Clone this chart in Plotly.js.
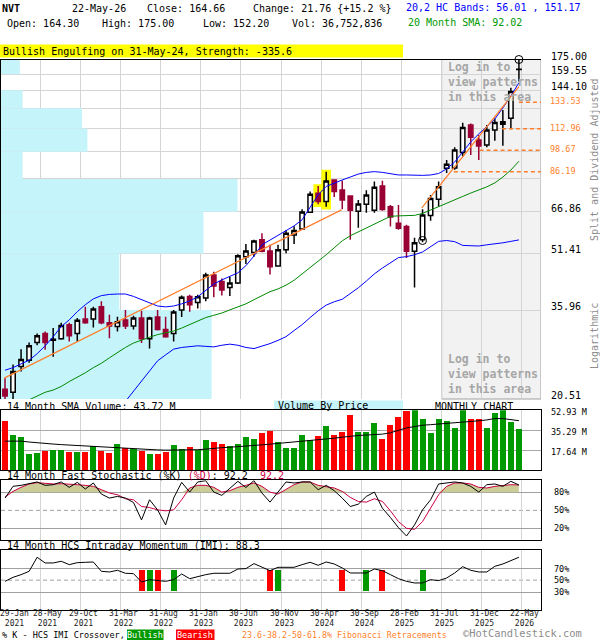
<!DOCTYPE html>
<html><head><meta charset="utf-8">
<script src="https://cdn.plot.ly/plotly-3.0.1.min.js"></script>
<style>html,body{margin:0;padding:0;background:#fff}#chart{width:600px;height:640px}</style>
</head><body><div id="chart"></div>
<script>
// ---------------- DATA (monthly, Jan-2021 .. May-2026) ----------------
const months = Array.from({length: 65}, (_, i) => i);

const openP = [21.8,21.4,25.2,26.2,29.3,31.0,29.7,30.0,32.8,31.0,34.0,34.0,36.7,
  33.2,32.4,33.8,32.5,34.2,30.0,34.4,31.8,31.0,36.0,39.2,37.7,38.8,44.9,43.1,41.5,
  42.7,50.4,51.7,56.1,52.2,47.5,52.6,57.8,
  60.0,66.7,75.2,71.4,81.8,76.8,73.9,67.1,70.2,67.5,78.7,69.1,62.2,61.0,52.1,56.1,65.3,72.4,
  88.1,88.2,97.2,115.7,105.2,102.0,112.1,116.3,120.7,164.30];
const highP = [23.4,25.5,28.1,29.3,31.0,31.4,32.1,33.2,33.2,34.2,36.7,36.7,38.0,
  34.9,34.5,36.0,34.7,35.8,34.5,36.0,34.5,36.0,39.4,39.6,39.6,45.5,45.8,43.9,44.3,
  51.2,54.6,56.1,58.4,54.3,54.3,59.6,61.1,
  68.0,76.0,78.7,86.2,82.1,81.5,74.1,72.1,76.7,81.0,81.4,69.8,69.8,61.6,56.8,68.0,74.4,81.0,
  92.8,100.6,117.4,116.8,108.6,115.7,120.5,127.3,146.5,175.00];
const lowP = [20.2,20.4,24.4,25.8,28.8,28.0,26.8,29.8,29.5,29.5,33.0,32.2,32.9,
  30.1,31.4,31.9,31.8,29.2,28.2,31.6,30.2,29.5,34.4,35.6,36.3,38.0,39.0,39.4,39.3,
  42.4,48.1,50.4,51.8,45.0,47.3,51.5,54.6,
  59.7,66.5,70.2,69.1,73.5,68.0,56.1,60.5,66.5,66.5,67.3,61.0,59.7,50.0,41.5,55.2,63.2,69.1,
  85.4,87.2,94.8,95.8,92.8,100.6,104.8,101.5,112.6,152.20];
const closeP = [20.9,24.4,26.3,28.7,30.6,29.3,29.9,32.6,30.6,33.7,33.2,36.2,33.2,
  32.5,33.4,32.5,34.2,30.0,34.2,31.8,30.4,35.5,39.0,37.2,39.1,44.9,41.9,40.8,42.7,
  50.7,52.2,55.6,52.1,47.3,52.6,58.4,59.4,
  66.8,74.7,71.4,81.2,76.0,72.1,67.5,70.3,74.4,78.1,67.9,64.7,60.3,52.1,55.0,65.6,72.8,78.4,
  90.3,98.9,114.0,107.1,101.4,112.1,117.5,118.1,142.90,164.66];

const upperBand = [24.6,25.0,25.6,26.2,27.3,28.7,30.4,32.4,33.8,35.6,
  37.2,38.6,39.4,39.7,39.8,39.8,39.2,38.4,37.6,36.9,
  36.7,36.9,37.4,38.1,39.1,40.6,42.4,43.5,44.4,45.5,
  47.6,50.6,54.3,56.0,57.5,59.3,61.2,63.6,68.6,74.5,
  78.5,80.3,81.8,83.3,84.9,85.8,86.2,85.8,84.9,84.4,
  84.4,84.2,84.2,84.4,85.2,87.7,91.6,97.6,104.0,109.4,
  115.0,120.2,128.9,138.9,151.17];
const lowerBand = [null,null,null,null,null,null,null,null,null,null,
  null,null,null,null,null,20.2,21.5,22.9,24.5,26.1,
  27.1,28.1,28.4,28.6,28.7,28.6,28.5,28.8,29.0,28.8,
  28.4,28.2,28.6,29.1,29.7,30.4,31.6,32.8,34.3,35.8,
  37.1,37.9,38.5,39.9,41.4,43.2,45.2,46.9,48.6,50.1,
  50.4,51.0,51.9,53.6,55.5,55.8,55.4,54.1,53.9,53.9,
  54.3,54.6,55.0,55.5,56.01];
const sma20 = [null,null,null,20.4,20.9,21.4,21.7,22.2,22.9,23.5,
  24.2,25.0,25.7,26.6,27.5,28.4,29.2,29.8,30.3,30.8,
  31.2,31.5,32.1,32.8,33.4,34.3,34.8,35.3,36.0,36.7,
  37.4,38.4,39.4,40.4,41.1,42.1,43.4,45.2,46.9,48.8,
  51.0,53.3,55.7,57.5,58.9,60.5,62.0,63.6,65.0,65.2,
  65.2,65.4,66.2,67.7,69.0,70.5,72.1,73.7,75.3,76.8,
  78.3,80.3,83.3,87.1,92.02];

const trendX1 = [-0.1, 41.9], trendY1 = [23.4, 67.7];
const trendX2 = [51.9, 64.0], trendY2 = [68.6, 147.4];
const fibLevels = [133.53, 112.96, 98.67, 86.19];
const fibFrom = [64.0, 61.9, 59.1, 55.9];
const patternX = [52, 64], patternY = [55.8, 175.0];
const highlightIdx = [39, 40];

// volume-by-price bins (price grid edges) and share of panel width (%)
const priceGrid = [20.51,35.96,51.41,66.86,82.31,97.76,113.21,128.66,144.11,159.56,175.01];
const vbpShare = [39.0, 21.9, 37.5, 43.8, 4.0, 16.0, 15.0, 4.0, 0, 3.5];

const volume = [43.2,30.9,29.1,14.1,15.0,16.8,17.6,17.6,15.9,15.9,15.9,20.9,16.8,
  15.0,22.9,19.4,18.5,17.1,14.1,14.1,16.2,22.1,18.5,20.3,17.6,26.5,24.4,22.9,21.2,
  22.9,29.1,27.3,32.6,34.4,24.4,19.4,19.4,30.9,26.5,30.0,38.8,30.9,33.5,48.5,33.5,
  33.5,41.5,27.3,39.7,46.7,52.6,58.0,45.0,32.6,45.0,43.2,37.0,60.0,45.0,45.0,37.0,50.3,57.0,42.3,36.75];
const volSMA = [25.6,25.6,25.6,24.8,24.0,23.5,23.0,22.5,22.1,21.8,
  21.4,20.8,20.3,19.9,19.4,19.0,18.5,18.2,18.0,17.8,
  17.6,17.6,17.6,17.6,18.0,18.5,19.4,19.8,20.2,20.6,
  21.2,21.7,22.3,22.9,23.5,24.1,24.7,25.3,26.0,26.6,
  27.3,28.2,29.1,30.0,30.6,31.0,31.4,31.8,33.0,35.2,
  37.3,38.5,39.7,40.2,40.7,41.2,41.6,42.0,42.8,43.6,
  44.4,45.6,45.6,44.5,43.72];

const stochK = [70.4,90.0,91.6,95.0,97.2,91.6,92.7,97.2,88.3,96.6,
  85.5,95.5,77.1,70.4,73.2,70.4,63.1,34.1,67.6,50.8,
  25.7,70.4,96.6,80.4,97.2,99.4,80.4,74.9,86.0,98.3,
  88.0,99.4,78.8,63.7,80.4,97.2,95.5,97.2,97.2,84.4,
  91.6,82.7,70.4,56.4,60.3,73.2,80.4,53.6,38.0,21.2,
  7.3,25.7,50.8,67.6,93.9,95.5,97.2,95.5,89.9,80.4,
  92.7,93.9,89.9,98.3,92.2];
const stochD = [72.0,81.6,88.3,93.9,96.1,95.0,93.9,94.4,93.9,92.7,
  91.6,89.9,84.4,78.8,76.0,69.3,67.6,56.4,54.7,50.8,
  49.2,50.8,67.6,87.2,91.6,91.6,88.3,80.4,82.7,88.3,
  91.6,95.5,89.9,80.4,77.1,84.4,92.7,97.2,97.2,91.6,
  89.9,87.2,81.6,71.5,64.8,63.7,69.3,64.8,49.2,31.3,
  20.1,18.4,31.3,53.6,76.0,89.9,95.5,95.5,93.9,88.3,
  87.2,89.9,91.6,92.7,92.2];
const stochUpper = 80;

const imi = [48.0,54.7,59.2,64.8,88.3,78.8,78.8,81.6,76.0,79.3,
  79.9,80.4,64.8,63.7,66.5,61.5,60.9,46.9,50.8,49.2,
  48.0,50.8,60.3,52.5,56.4,59.2,61.5,61.5,61.5,68.7,
  69.3,77.7,71.5,65.9,71.5,71.5,71.5,76.0,79.9,74.9,
  80.4,77.1,70.4,62.0,62.0,62.0,68.7,65.9,59.2,52.5,
  48.0,45.3,45.3,50.8,49.2,53.6,62.0,72.6,66.5,63.7,
  63.7,73.2,77.1,82.7,88.3];
const bullishX = [18, 21, 34, 45, 52];
const bearishX = [17, 19, 33, 42, 47];
const crossBand = [32.4, 67.0];

const tickIdx = [0,4,9,14,19,24,29,34,39,44,49,54,59,64];
const tickDay = ['29-Jan','28-May','29-Oct','31-Mar','31-Aug','31-Jan','30-Jun','30-Nov','30-Apr','30-Sep','28-Feb','31-Jul','31-Dec','22-May'];
const tickYear = ['2021','2021','2021','2022','2022','2023','2023','2023','2024','2024','2025','2025','2025','2026'];
const priceLabels = [175.00,159.55,144.10,66.86,51.41,35.96,20.51];

// ---------------- LAYOUT HELPERS ----------------
const W = 600, H = 640;
const px = x => x / W;
const py = y => 1 - y / H;
const xDom = [px(1), px(541)];
const xRange = [-0.5, 66.75];
const gridTicks = tickIdx.slice(1).map(v => v + 0.375);
const FONT = 'DejaVu Sans Mono';
const GRID = '#d4d4d4';
const UP = '#009900', DOWN = '#ff0000', MAROON = '#990033', ORANGE = '#ff7f2a';

// ---------------- TRACES ----------------
const traces = [];

traces.push({type:'scatter', mode:'lines', x:months, y:upperBand, line:{color:'#0000ff', width:1}, hoverinfo:'skip'});
traces.push({type:'scatter', mode:'lines', x:months, y:lowerBand, line:{color:'#0000ff', width:1}, hoverinfo:'skip'});
traces.push({type:'scatter', mode:'lines', x:months, y:sma20, line:{color:'#008800', width:1}, hoverinfo:'skip'});
traces.push({type:'scatter', mode:'lines', x:trendX1, y:trendY1, line:{color:ORANGE, width:1.2}, hoverinfo:'skip'});
traces.push({type:'scatter', mode:'lines', x:trendX2, y:trendY2, line:{color:ORANGE, width:1.2}, hoverinfo:'skip'});
const fx = [], fy = [];
fibLevels.forEach((l, k) => { fx.push(fibFrom[k], xRange[1], null); fy.push(l, l, null); });
traces.push({type:'scatter', mode:'lines', x:fx, y:fy, line:{color:ORANGE, width:1.5, dash:'4px,3px'}, hoverinfo:'skip'});

traces.push({type:'candlestick', x:months, open:openP, high:highP, low:lowP, close:closeP,
  xaxis:'x', yaxis:'y', whiskerwidth:0,
  increasing:{line:{color:'#000000', width:1.5}, fillcolor:'#ffffff'},
  decreasing:{line:{color:MAROON, width:1.5}, fillcolor:MAROON}, hoverinfo:'none'});

traces.push({type:'scatter', mode:'markers', x:patternX, y:patternY, cliponaxis:false,
  marker:{symbol:'circle-open', size:8, color:'#000', line:{width:1, color:'#000'}}, hoverinfo:'skip'});

// volume
traces.push({type:'bar', x:months, y:volume, xaxis:'x3', yaxis:'y3', width:0.75,
  marker:{color: months.map(i => closeP[i] >= openP[i] ? UP : DOWN), line:{width:0}}, hoverinfo:'skip'});
traces.push({type:'scatter', mode:'lines', x:months, y:volSMA, xaxis:'x3', yaxis:'y3',
  line:{color:'#000', width:1}, hoverinfo:'skip'});

// stochastic
traces.push({type:'scatter', mode:'lines', x:months, y:months.map(() => stochUpper), xaxis:'x4', yaxis:'y4',
  line:{width:0, color:'rgba(0,0,0,0)'}, hoverinfo:'skip'});
traces.push({type:'scatter', mode:'lines', x:months, y:stochD.map(v => Math.max(v, stochUpper)), xaxis:'x4', yaxis:'y4',
  fill:'tonexty', fillcolor:'#cccc99', line:{width:0, color:'rgba(0,0,0,0)'}, hoverinfo:'skip'});
traces.push({type:'scatter', mode:'lines', x:months, y:stochD, xaxis:'x4', yaxis:'y4',
  line:{color:'#cc0044', width:1}, hoverinfo:'skip'});
traces.push({type:'scatter', mode:'lines', x:months, y:stochK, xaxis:'x4', yaxis:'y4',
  line:{color:'#000', width:1}, hoverinfo:'skip'});

// IMI
traces.push({type:'bar', x:bullishX, y:bullishX.map(() => crossBand[1] - crossBand[0]), base:crossBand[0],
  xaxis:'x5', yaxis:'y5', width:0.75, marker:{color:UP, line:{width:0}}, hoverinfo:'skip'});
traces.push({type:'bar', x:bearishX, y:bearishX.map(() => crossBand[1] - crossBand[0]), base:crossBand[0],
  xaxis:'x5', yaxis:'y5', width:0.75, marker:{color:DOWN, line:{width:0}}, hoverinfo:'skip'});
traces.push({type:'scatter', mode:'lines', x:months, y:imi, xaxis:'x5', yaxis:'y5',
  line:{color:'#000', width:1}, hoverinfo:'skip'});

// ---------------- AXES ----------------
function xax(anchor, extra) {
  return Object.assign({domain:xDom, range:xRange, anchor:anchor, tickvals:gridTicks, showticklabels:false,
    ticks:'', showgrid:true, gridcolor:GRID, gridwidth:1, zeroline:false, fixedrange:true,
    showline:true, linecolor:'#000', linewidth:1, mirror:true}, extra || {});
}
function yax(anchor, dom, range, tickvals, gridcolor, extra) {
  return Object.assign({domain:dom, range:range, anchor:anchor, tickvals:tickvals, showticklabels:false,
    ticks:'', showgrid:true, gridcolor:gridcolor, gridwidth:1, zeroline:false, fixedrange:true,
    showline:true, linecolor:'#000', linewidth:1, mirror:true}, extra || {});
}

// ---------------- ANNOTATIONS ----------------
const ann = [];
function T(text, x, y, o) {
  o = o || {};
  ann.push({xref:'paper', yref:'paper', x:px(x), y:py(y), xanchor:o.xa || 'left', yanchor:o.ya || 'middle',
    text:text, showarrow:false, textangle:o.angle || 0, align:o.align || 'left', borderpad:o.pad == null ? 1 : o.pad,
    font:{family:FONT, size:o.size || 10, color:o.color || '#000'}});
}
T('<b>NVT</b>', 0, 9);
T('22-May-26', 70, 9);
T('Close: 164.66', 145, 9);
T('Change: 21.76 {+15.2 %}', 251, 9);
T('20,2 HC Bands: 56.01 , 151.17', 404, 7, {color:'#0000ff'});
T('Open: 164.30', 4.5, 24);
T('High: 175.00', 100, 24);
T('Low: 152.20', 201, 24);
T('Vol: 36,752,836', 290, 24);
T('20 Month SMA: 92.02', 406, 22, {color:'#009900'});
T('Bullish Engulfing on 31-May-24, Strength: -335.6', 1, 51.5);

T('<b>Log in to<br>view patterns<br>in this area</b>', 446, 82, {size:11.5, color:'#a6a6a6'});
T('<b>Log in to<br>view patterns<br>in this area</b>', 446, 374, {size:11.5, color:'#a6a6a6'});

T('Split and Dividend Adjusted', 594, 160, {angle:-90, xa:'center', color:'#8c8c8c'});
T('Logarithmic', 594, 336, {angle:-90, xa:'center', color:'#8c8c8c'});

T('14 Month SMA Volume: 43.72 M', 4.5, 406);
T('Volume By Price', 276, 405.5);
T('MONTHLY CHART', 433, 406);
T('52.93 M', 549, 411.5, {size:8.5});
T('35.29 M', 549, 432.3, {size:8.5});
T('17.64 M', 549, 452.3, {size:8.5});

T('14 Month Fast Stochastic (%K) <span style="color:#cc0044">(%D)</span>: 92.2\u00a0 <span style="color:#cc0044">92.2</span>', 4.5, 475);
T('80%', 552, 492, {size:8.5});
T('50%', 552, 510.3, {size:8.5});
T('20%', 552, 528.3, {size:8.5});

T('14 Month HCS Intraday Momentum (IMI): 88.3', 4.5, 545);
T('70%', 552, 568.5, {size:8.5});
T('50%', 552, 580.3, {size:8.5});
T('30%', 552, 592, {size:8.5});

T('% K - HCS IMI Crossover,', 0, 635, {size:8.5});
T('Bullish', 145, 635, {size:8.5, color:'#ffffff', xa:'center'});
T('Bearish', 195, 635, {size:8.5, color:'#ffffff', xa:'center'});
T('23.6-38.2-50-61.8% Fibonacci Retracements', 240, 635, {size:8.3, color:ORANGE});
T('\u00a9HotCandlestick.com', 462, 640, {size:10.4, color:'#8c8c8c', ya:'bottom', pad:0});

// price tick labels (log axis -> log10 of value)
priceLabels.forEach(v => ann.push({xref:'paper', x:px(549), xanchor:'left', yref:'y', y:Math.log10(v),
  yanchor:'middle', yshift:3.5, text:v.toFixed(2), showarrow:false, font:{family:FONT, size:10, color:'#000'}}));
fibLevels.forEach(v => ann.push({xref:'paper', x:px(548), xanchor:'left', yref:'y', y:Math.log10(v),
  yanchor:'middle', yshift:1, text:v.toFixed(2), showarrow:false, font:{family:FONT, size:8.5, color:ORANGE}}));

// date labels (two-line: day / year)
tickIdx.forEach((t, k) => {
  const off = k === 0 ? 1.2 : (k === 1 ? 1.35 : 0.75);
  ann.push({xref:'x5', x:t + off, yref:'paper', y:py(618.5), xanchor:'center', yanchor:'middle',
    text:tickDay[k] + '<br>' + tickYear[k], showarrow:false, align:'center', borderpad:0,
    font:{family:FONT, size:8, color:'#222'}});
});

// ---------------- SHAPES ----------------
const shapes = [
  {type:'rect', xref:'x', yref:'y domain', x0:54.375, x1:xRange[1], y0:0, y1:1,
    fillcolor:'#f2f2f2', line:{color:'#a0a0a0', width:1}, layer:'below'},
  {type:'rect', xref:'paper', yref:'paper', x0:0, x1:px(403), y0:py(57.5), y1:py(44.5),
    fillcolor:'#ffff00', line:{width:0}},
  {type:'rect', xref:'paper', yref:'paper', x0:px(274), x1:px(403), y0:py(410), y1:py(400.5),
    fillcolor:'#c6f4fb', line:{width:0}, layer:'below'},
  {type:'rect', xref:'paper', yref:'paper', x0:px(127), x1:px(163.5), y0:py(640), y1:py(629.5),
    fillcolor:UP, line:{width:0}, layer:'below'},
  {type:'rect', xref:'paper', yref:'paper', x0:px(176), x1:px(214.5), y0:py(640), y1:py(629.5),
    fillcolor:DOWN, line:{width:0}, layer:'below'},
  {type:'line', xref:'x4 domain', x0:0, x1:1, yref:'y4', y0:50, y1:50,
    line:{color:'#a0a0a0', width:1, dash:'4px,3px'}, layer:'below'},
  {type:'line', xref:'x5 domain', x0:0, x1:1, yref:'y5', y0:50, y1:50,
    line:{color:'#a0a0a0', width:1, dash:'4px,3px'}, layer:'below'}
];
// volume-by-price blocks (between grid and traces)
vbpShare.forEach((s, b) => {
  if (s <= 0) return;
  shapes.push({type:'rect', xref:'x', yref:'y', x0:xRange[0],
    x1:xRange[0] + s / 100 * (xRange[1] - xRange[0]), y0:priceGrid[b], y1:priceGrid[b + 1],
    fillcolor:'#c6f4fb', line:{width:0}, layer:'between'});
});
// engulfing pattern highlight
highlightIdx.forEach(i => {
  shapes.push({type:'rect', xref:'x', yref:'y', x0:i - 0.6, x1:i + 0.6,
    y0:lowP[i] * 0.982, y1:highP[i] * 1.012, fillcolor:'#ffff00', line:{width:0}, layer:'between'});
});

const layout = {
  width:W, height:H, margin:{l:0, r:0, t:0, b:0}, paper_bgcolor:'#fff', plot_bgcolor:'#fff',
  showlegend:false, font:{family:FONT, size:10, color:'#000'}, bargap:0, boxgap:0.22,
  xaxis: xax('y', {side:'top', mirror:false, rangeslider:{visible:false}}),
  yaxis: yax('x', [py(399), py(59.5)], [Math.log10(20.51), Math.log10(175.01)], priceGrid, GRID,
    {type:'log', mirror:false}),
  xaxis3: xax('y3'),
  yaxis3: yax('x3', [py(470), py(410.3)], [0, 52.93], [17.64, 35.29], '#a8a8a8'),
  xaxis4: xax('y4'),
  yaxis4: yax('x4', [py(540.4), py(480.3)], [0, 100], [20, 80], '#a0a0a0'),
  xaxis5: xax('y5'),
  yaxis5: yax('x5', [py(610), py(550.3)], [0, 100], [30, 70], '#a0a0a0'),
  annotations: ann, shapes: shapes
};

Plotly.newPlot('chart', traces, layout, {staticPlot:true, displayModeBar:false});
</script>
</body></html>
